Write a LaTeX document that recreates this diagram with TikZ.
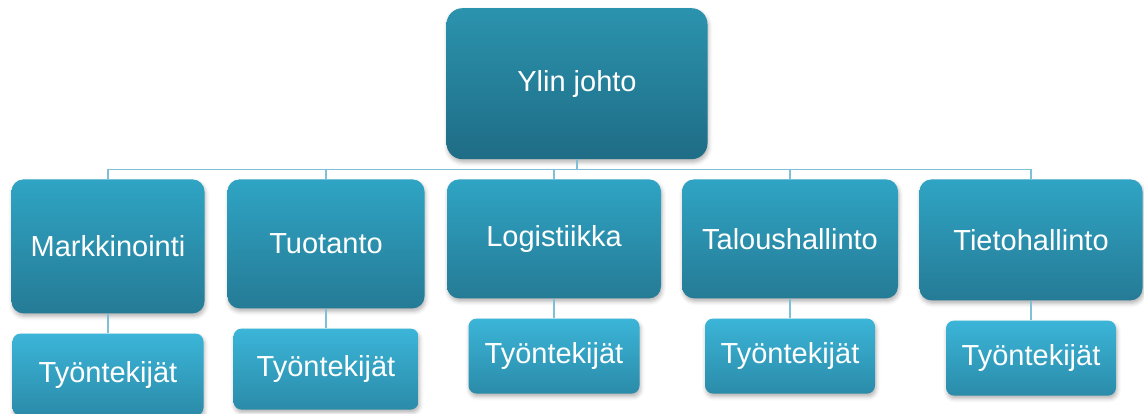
\documentclass[tikz,border=0pt]{standalone}
\usepackage{fontspec}
\setmainfont{Liberation Sans}
\usetikzlibrary{shadows.blur}
\definecolor{bossTop}{HTML}{2B93AE}
\definecolor{bossBottom}{HTML}{1F6C85}
\definecolor{deptTop}{HTML}{2FA4C4}
\definecolor{deptBottom}{HTML}{257B96}
\definecolor{staffTop}{HTML}{3BB5D8}
\definecolor{staffBottom}{HTML}{2B8BA9}
\definecolor{lineBlue}{HTML}{80C0D6}
\begin{document}
\begin{tikzpicture}[
  x=1pt, y=1pt,
  level 1/.style={sibling distance=231pt, level distance=95.5pt},
  level 2/.style={level distance=80pt},
  edge from parent/.style={draw=lineBlue, line width=1.6pt},
  edge from parent path={(\tikzparentnode.south) -- ++(0,-10pt) -| (\tikzchildnode.north)},
  every node/.style={anchor=north, text=white, inner sep=3pt,
                     font=\fontsize{29}{34}\selectfont,
                     blur shadow={shadow xshift=1pt, shadow yshift=-3pt,
                                  shadow blur radius=4pt, shadow opacity=30}},
  boss/.style={top color=bossTop, bottom color=bossBottom, rounded corners=16pt,
               minimum width=261pt, minimum height=151pt},
  dept/.style={top color=deptTop, bottom color=deptBottom, rounded corners=12pt},
  staff/.style={top color=staffTop, bottom color=staffBottom, rounded corners=8pt}
]
\useasboundingbox (0,0) rectangle (1144,-414);
\node[boss] (ylin) at (577,-8) {Ylin johto}
  child[xshift=-7pt] { node[dept, minimum width=193pt, minimum height=134pt] (markkinointi) {Markkinointi}
    child[level distance=87pt] { node[staff, minimum width=191pt, minimum height=82pt] (markkinointiStaff) {Työntekijät} }
  }
  child[xshift=-20pt] { node[dept, minimum width=197pt, minimum height=129pt] (tuotanto) {Tuotanto}
    child[level distance=84.5pt] { node[staff, minimum width=185pt, minimum height=81pt] (tuotantoStaff) {Työntekijät} }
  }
  child[xshift=-23pt] { node[dept, minimum width=214pt, minimum height=119pt] (logistiikka) {Logistiikka}
    child[level distance=79.5pt] { node[staff, minimum width=171pt, minimum height=75pt] (logistiikkaStaff) {Työntekijät} }
  }
  child[xshift=-18pt] { node[dept, minimum width=216pt, minimum height=119pt] (talous) {Taloushallinto}
    child[level distance=79.5pt] { node[staff, minimum width=170pt, minimum height=75pt] (talousStaff) {Työntekijät} }
  }
  child[xshift=-8pt] { node[dept, minimum width=223pt, minimum height=121pt] (tieto) {Tietohallinto}
    child[level distance=80.5pt] { node[staff, minimum width=170pt, minimum height=75pt] (tietoStaff) {Työntekijät} }
  };
\end{tikzpicture}
\end{document}
